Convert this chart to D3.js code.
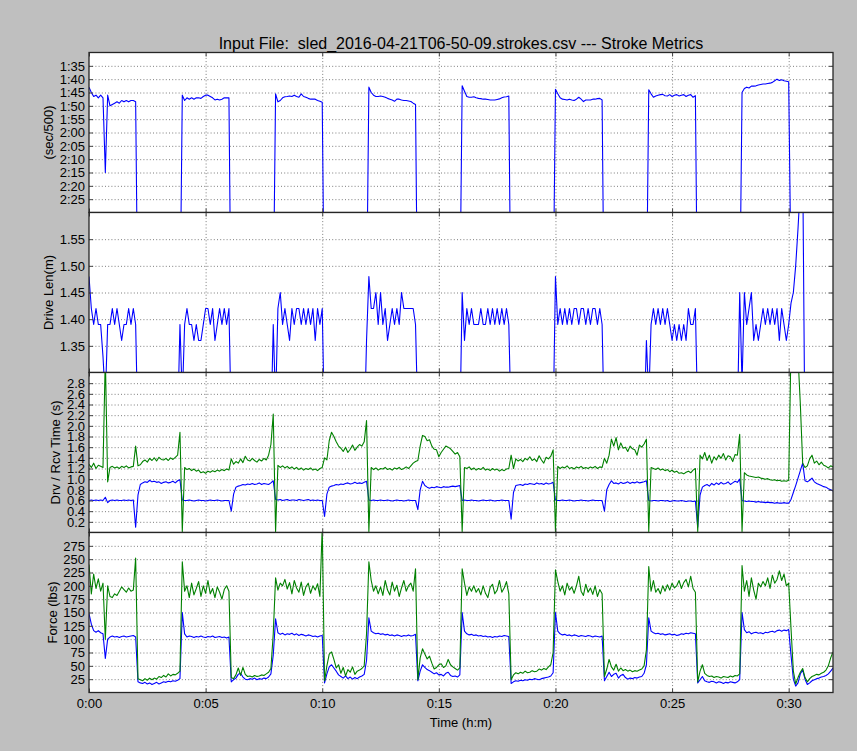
<!DOCTYPE html>
<html>
<head>
<meta charset="utf-8">
<script src="https://cdn.jsdelivr.net/npm/d3@7"></script>
<style>
  html, body { margin: 0; padding: 0; background: #bfbfbf; }
  svg { display: block; }
  text { font-family: "Liberation Sans", Arial, Helvetica, sans-serif; fill: #000; }
  .keep-space { white-space: pre; }
</style>
</head>
<body>
<svg id="chart" width="857" height="751"></svg>
<script>
// ---------------- DATA (one sample every 0.1 minute, 0.0 .. 31.9 min) ----------------
const SAMPLE_STEP_MIN = 0.1;

// Pace, seconds per 500 m
const pace = [
  103,105,106.5,106,107,106,107,135,106,110,109.5,109,108.5,109,108,108.5,108,108.5,108,108,108.5,
  195,205,210,200,198,205,212,208,200,196,203,207,201,199,204,200,197,195,190,
  106,108,107,107.5,107,107.5,107,107,107.2,106.5,106,106,106.5,107,107.8,107.5,107.8,107.5,107,107,107,
  200,210,205,198,215,207,203,199,211,206,202,208,200,195,204,199,193,190,185,
  105.5,108.5,108,107,106.6,106.5,106.3,106.5,106,106.5,106.8,105.5,106.5,106.8,107.2,107.5,107.5,107.5,108,108.3,108.7,
  198,212,206,201,209,214,203,197,205,210,202,199,207,203,196,200,194,190,186,
  103,105,106,106.5,106.5,106.3,106.5,106.8,107.2,107.5,107.8,108.3,107.5,107.5,107.8,108,108,108.2,108.4,109,109.5,
  201,207,213,204,198,209,205,211,200,196,204,208,199,203,197,201,195,191,187,
  102.5,104.5,106.5,106.8,106.8,106.6,107,107.2,107.3,107.5,107.5,107.6,107.8,107.8,107.8,107.6,107.4,107,106.7,106.6,106.3,
  199,206,211,203,208,214,202,198,207,210,201,205,209,200,197,203,195,190,186,
  103.8,105.5,107,107.5,107.6,107.8,107.5,107.8,108,107.5,106.8,107.5,108.4,107.8,107.8,107.8,107.5,107.5,107.3,107.2,107.8,
  202,208,212,205,199,210,206,213,201,197,205,209,200,204,198,202,196,191,187,
  104,105.5,106.8,106.3,106,105.8,105.7,106.2,106.3,105.8,106.5,106,105.8,106.3,106,105.8,106.5,106,105.8,106.8,106.2,
  200,207,213,204,210,215,206,199,208,211,203,206,210,201,198,204,196,192,188,
  105,103.5,103,103.3,102.6,102.6,102.5,102.2,102,101.8,101.8,101.6,101.5,101.2,100.6,100,100.5,100.2,100.6,100.8,101,
  175,190,198,205,210,208,212,215,210,213,218,214,216,220,217,219,222,218,220
];

// Drive length, metres
const driveLen = [
  1.48,1.42,1.39,1.42,1.39,1.39,1.33,1.25,1.39,1.39,1.42,1.39,1.42,1.39,1.36,1.39,1.39,1.42,1.39,1.42,1.39,
  1.18,1.15,1.20,1.17,1.22,1.19,1.16,1.21,1.18,1.23,1.20,1.17,1.19,1.22,1.18,1.21,1.24,1.20,1.39,
  1.25,1.39,1.42,1.39,1.39,1.36,1.39,1.36,1.36,1.39,1.42,1.42,1.39,1.42,1.36,1.39,1.42,1.39,1.42,1.39,1.42,
  1.20,1.17,1.22,1.19,1.16,1.21,1.18,1.23,1.20,1.17,1.19,1.22,1.18,1.21,1.16,1.20,1.23,1.19,1.39,
  1.24,1.42,1.45,1.39,1.42,1.39,1.36,1.42,1.39,1.42,1.42,1.39,1.42,1.39,1.42,1.39,1.42,1.36,1.42,1.39,1.42,
  1.19,1.22,1.17,1.20,1.23,1.18,1.21,1.16,1.19,1.22,1.18,1.20,1.23,1.17,1.21,1.19,1.22,1.18,1.36,
  1.48,1.42,1.42,1.45,1.39,1.45,1.39,1.42,1.36,1.39,1.42,1.39,1.42,1.39,1.45,1.42,1.42,1.42,1.42,1.42,1.39,
  1.21,1.18,1.22,1.19,1.16,1.20,1.23,1.18,1.21,1.17,1.20,1.22,1.19,1.16,1.21,1.18,1.22,1.20,1.19,
  1.45,1.36,1.42,1.39,1.42,1.39,1.39,1.39,1.42,1.39,1.39,1.42,1.39,1.42,1.39,1.42,1.39,1.42,1.39,1.42,1.39,
  1.20,1.23,1.18,1.21,1.17,1.19,1.22,1.20,1.16,1.21,1.18,1.23,1.19,1.20,1.17,1.22,1.18,1.21,1.20,
  1.48,1.39,1.42,1.39,1.42,1.39,1.42,1.39,1.42,1.42,1.39,1.42,1.42,1.39,1.42,1.39,1.42,1.42,1.39,1.42,1.39,
  1.18,1.21,1.19,1.23,1.17,1.20,1.22,1.18,1.21,1.19,1.16,1.22,1.20,1.18,1.21,1.19,1.23,1.20,1.36,
  1.25,1.39,1.42,1.39,1.42,1.39,1.42,1.39,1.42,1.39,1.36,1.39,1.36,1.39,1.36,1.39,1.36,1.42,1.39,1.39,1.42,
  1.21,1.18,1.20,1.23,1.17,1.19,1.22,1.20,1.18,1.21,1.16,1.19,1.23,1.20,1.18,1.22,1.19,1.21,1.45,
  1.28,1.45,1.39,1.42,1.45,1.36,1.39,1.36,1.39,1.42,1.39,1.42,1.39,1.42,1.39,1.42,1.36,1.42,1.39,1.36,1.39,
  1.43,1.45,1.50,1.57,1.65,1.70,1.15,1.18,1.12,1.16,1.14,1.19,1.17,1.13,1.18,1.15,1.20,1.16,1.18
];

// Drive time, seconds
const driveTime = [
  0.6,0.61,0.6,0.61,0.6,0.61,0.6,0.66,0.56,0.6,0.61,0.6,0.61,0.6,0.6,0.61,0.6,0.61,0.6,0.61,0.1,
  0.7,0.9,0.93,0.95,0.94,0.98,0.95,0.96,0.94,0.95,0.92,0.94,0.95,0.93,0.94,0.96,0.93,0.97,0.99,
  0.61,0.6,0.6,0.61,0.6,0.59,0.6,0.61,0.6,0.6,0.59,0.6,0.61,0.6,0.6,0.61,0.6,0.59,0.6,0.6,0.6,
  0.4,0.72,0.85,0.87,0.88,0.9,0.89,0.91,0.9,0.92,0.9,0.91,0.93,0.9,0.92,0.91,0.9,0.93,0.97,
  0.62,0.61,0.62,0.6,0.61,0.62,0.6,0.61,0.61,0.6,0.62,0.61,0.6,0.61,0.62,0.6,0.61,0.6,0.61,0.6,0.6,
  0.3,0.72,0.85,0.87,0.88,0.9,0.89,0.91,0.9,0.92,0.93,0.91,0.92,0.94,0.92,0.93,0.92,0.94,0.96,
  0.61,0.6,0.61,0.6,0.6,0.61,0.6,0.6,0.61,0.6,0.59,0.6,0.61,0.6,0.6,0.59,0.6,0.61,0.6,0.6,0.6,
  0.43,0.8,0.96,0.88,0.85,0.83,0.85,0.84,0.86,0.85,0.84,0.86,0.85,0.85,0.86,0.87,0.86,0.87,0.88,
  0.6,0.61,0.6,0.6,0.61,0.6,0.6,0.59,0.6,0.61,0.6,0.6,0.61,0.6,0.59,0.6,0.6,0.61,0.6,0.6,0.6,
  0.25,0.75,0.88,0.89,0.9,0.88,0.91,0.9,0.92,0.91,0.9,0.93,0.91,0.92,0.9,0.93,0.91,0.92,0.94,
  0.61,0.6,0.6,0.61,0.6,0.6,0.61,0.6,0.59,0.6,0.6,0.61,0.6,0.6,0.59,0.6,0.61,0.6,0.6,0.6,0.6,
  0.4,0.8,0.9,0.97,0.92,0.93,0.91,0.94,0.92,0.93,0.95,0.92,0.94,0.93,0.95,0.93,0.94,0.95,0.97,
  0.6,0.59,0.6,0.6,0.59,0.6,0.6,0.59,0.6,0.58,0.59,0.6,0.59,0.59,0.6,0.59,0.58,0.59,0.59,0.58,0.59,
  0.1,0.7,0.85,0.88,0.9,0.87,0.92,0.89,0.93,0.9,0.94,0.91,0.92,0.95,0.9,0.93,0.96,0.94,1.0,
  0.6,0.59,0.58,0.59,0.58,0.58,0.57,0.58,0.57,0.57,0.56,0.57,0.56,0.56,0.55,0.56,0.55,0.55,0.56,0.55,0.55,
  0.62,0.75,0.88,1.02,1.16,1.3,0.97,0.95,0.98,1.02,0.95,0.92,0.9,0.88,0.86,0.85,0.82,0.8,0.78
];

// Recovery time, seconds
const recoveryTime = [
  1.28,1.22,1.3,1.2,1.26,1.24,1.22,3.3,0.95,1.22,1.24,1.21,1.23,1.2,1.24,1.22,1.25,1.21,1.23,1.24,1.62,
  1.25,1.27,1.33,1.36,1.32,1.39,1.35,1.4,1.34,1.41,1.37,1.36,1.39,1.35,1.4,1.37,1.41,1.45,1.88,
  0.02,1.22,1.18,1.2,1.16,1.19,1.15,1.17,1.12,1.14,1.11,1.15,1.13,1.16,1.14,1.17,1.15,1.18,1.16,1.19,1.17,
  1.38,1.28,1.33,1.3,1.38,1.31,1.43,1.36,1.34,1.39,1.35,1.32,1.37,1.34,1.39,1.36,1.45,1.65,2.22,
  0.02,1.26,1.22,1.25,1.21,1.24,1.2,1.23,1.19,1.22,1.18,1.21,1.17,1.2,1.18,1.21,1.17,1.19,1.16,1.2,1.22,
  1.4,1.36,1.72,1.88,1.8,1.7,1.62,1.58,1.52,1.6,1.5,1.56,1.64,1.54,1.6,1.65,1.62,1.7,2.1,
  0.02,1.22,1.18,1.21,1.17,1.2,1.19,1.22,1.18,1.2,1.17,1.21,1.19,1.22,1.18,1.2,1.23,1.2,1.25,1.3,1.33,
  1.35,1.62,1.82,1.8,1.72,1.74,1.62,1.56,1.55,1.42,1.5,1.56,1.62,1.6,1.57,1.52,1.47,1.5,1.42,
  0.02,1.22,1.2,1.23,1.18,1.21,1.17,1.2,1.18,1.22,1.17,1.19,1.16,1.2,1.17,1.19,1.15,1.18,1.16,1.19,1.2,
  1.45,1.2,1.38,1.34,1.37,1.33,1.39,1.36,1.42,1.35,1.38,1.33,1.44,1.36,1.3,1.41,1.38,1.43,1.55,
  0.02,1.24,1.2,1.23,1.21,1.25,1.2,1.22,1.19,1.23,1.21,1.24,1.2,1.22,1.2,1.23,1.21,1.24,1.2,1.23,1.22,
  1.39,1.3,1.45,1.75,1.62,1.78,1.55,1.68,1.58,1.6,1.52,1.62,1.57,1.55,1.45,1.64,1.6,1.66,1.75,
  0.02,1.22,1.2,1.18,1.21,1.17,1.19,1.16,1.18,1.14,1.17,1.13,1.15,1.11,1.12,1.1,1.13,1.15,1.12,1.17,1.2,
  0.02,1.45,1.38,1.5,1.35,1.45,1.3,1.42,1.36,1.45,1.39,1.48,1.36,1.44,1.42,1.33,1.46,1.45,1.84,
  0.02,1.12,1.08,1.06,1.05,1.04,1.03,1.04,1.02,1.01,1.0,1.01,0.99,0.98,0.99,0.97,0.98,0.96,0.97,0.96,0.98,
  3.5,3.6,3.4,3.3,2.4,1.3,1.22,1.25,1.38,1.45,1.3,1.34,1.27,1.32,1.26,1.24,1.21,1.25,1.23
];

// Average force, lbs
const avgForce = [
  148,128,116,113,116,112,110,64,100,104,106,104,105,103,105,106,104,105,106,107,104,
  20,18,17,19,16,18,15,17,19,16,18,20,19,21,20,22,21,23,26,
  150,110,104,106,105,103,105,104,106,104,103,105,104,106,103,104,105,103,104,102,104,
  20,24,27,34,36,29,25,24,26,25,27,24,26,25,27,26,29,35,70,
  138,112,109,111,108,110,109,111,108,110,107,109,108,106,108,107,105,106,104,106,107,
  18,35,48,52,46,40,33,30,27,31,26,29,25,28,26,29,31,34,60,
  140,115,112,110,111,109,110,108,109,107,108,106,108,107,105,107,106,108,106,107,109,
  22,40,52,47,43,41,38,35,37,33,34,31,36,38,32,30,31,29,33,
  150,115,110,108,109,107,108,106,107,105,106,104,105,103,105,104,106,105,107,106,105,
  17,20,22,21,23,22,24,23,25,24,26,25,24,26,27,28,29,31,37,
  150,115,110,108,109,107,108,106,108,107,105,107,106,105,107,106,104,106,105,104,106,
  22,30,38,30,34,36,27,32,34,28,25,27,26,28,27,29,30,36,52,
  140,115,112,110,111,109,110,108,109,110,108,109,107,108,110,109,111,110,112,111,110,
  18,24,30,22,20,19,21,20,18,20,19,17,19,18,20,19,18,20,24,
  150,118,112,114,110,112,113,111,112,110,113,112,114,115,113,116,117,115,117,116,118,
  70,25,12,18,35,42,25,15,18,22,24,26,27,29,30,32,35,40,46
];

// Peak force, lbs
const peakForce = [
  240,185,222,195,213,190,205,100,200,180,178,185,182,190,198,193,188,196,190,192,252,
  26,24,22,26,23,27,24,27,25,30,28,32,29,35,31,34,33,36,40,
  245,190,200,178,205,183,195,208,180,200,186,210,185,195,178,198,188,175,193,200,190,
  28,26,33,46,32,47,34,30,31,29,32,30,31,33,32,35,38,45,110,
  215,192,205,200,212,194,206,185,210,196,188,207,182,198,205,186,200,192,204,180,310,
  22,50,72,76,62,46,52,36,47,31,43,38,48,34,40,42,45,50,110,
  245,210,190,200,185,198,182,210,192,183,207,190,201,180,196,210,190,200,205,190,232,
  24,65,82,72,63,68,55,44,47,52,54,47,50,62,52,48,45,42,46,
  232,205,182,198,190,200,188,195,183,200,186,178,197,203,185,192,210,188,196,208,185,
  24,33,37,35,38,36,40,37,38,41,39,40,44,42,45,43,48,52,75,
  230,208,190,200,183,205,192,198,186,200,218,190,182,203,188,196,184,200,180,193,185,
  30,44,62,48,42,53,40,46,41,43,40,42,39,41,40,42,44,50,80,
  236,190,210,188,195,185,200,190,202,192,205,196,200,210,195,206,212,198,218,195,188,
  20,40,52,36,32,30,31,28,30,29,27,30,29,28,31,29,32,31,35,
  238,190,210,180,215,192,175,205,198,208,200,215,195,220,205,212,228,210,222,200,205,
  120,40,16,28,38,45,28,20,26,30,32,34,33,36,38,42,50,65,76
];

// Tick values and labels
const xTickValues = [0, 5, 10, 15, 20, 25, 30];
const xTickLabels = ["0:00", "0:05", "0:10", "0:15", "0:20", "0:25", "0:30"];
const paceTickValues = [95, 100, 105, 110, 115, 120, 125, 130, 135, 140, 145];
const paceTickLabels = ["1:35", "1:40", "1:45", "1:50", "1:55", "2:00", "2:05", "2:10", "2:15", "2:20", "2:25"];
const lenTickValues = [1.35, 1.40, 1.45, 1.50, 1.55];
const lenTickLabels = ["1.35", "1.40", "1.45", "1.50", "1.55"];
const timeTickValues = [0.2, 0.4, 0.6, 0.8, 1.0, 1.2, 1.4, 1.6, 1.8, 2.0, 2.2, 2.4, 2.6, 2.8];
const timeTickLabels = ["0.2", "0.4", "0.6", "0.8", "1.0", "1.2", "1.4", "1.6", "1.8", "2.0", "2.2", "2.4", "2.6", "2.8"];
const forceTickValues = [25, 50, 75, 100, 125, 150, 175, 200, 225, 250, 275];
const forceTickLabels = ["25", "50", "75", "100", "125", "150", "175", "200", "225", "250", "275"];

const titleText = "Input File:  sled_2016-04-21T06-50-09.strokes.csv --- Stroke Metrics";
const xLabelText = "Time (h:m)";

// ---------------- DRAWING ----------------
const svg = d3.select("#chart");
const W = 857, H = 751;
const plotLeft = 89, plotRight = 833;
const panelH = 160;
const panelTops = [52.5, 212.5, 372.5, 532.5];
const BLUE = "#0000ff", GREEN = "#008000";

svg.append("rect").attr("width", W).attr("height", H).attr("fill", "#bfbfbf");

const x = d3.scaleLinear()
  .domain([0, (pace.length - 1) * SAMPLE_STEP_MIN])
  .range([plotLeft, plotRight]);

const panels = [
  { label: "(sec/500)", domain: [90, 150], inverted: true, ticks: paceTickValues, labels: paceTickLabels,
    series: [{ values: pace, color: BLUE }] },
  { label: "Drive Len(m)", domain: [1.30, 1.60], ticks: lenTickValues, labels: lenTickLabels,
    series: [{ values: driveLen, color: BLUE }] },
  { label: "Drv / Rcv Time (s)", domain: [0, 3.0], ticks: timeTickValues, labels: timeTickLabels,
    series: [{ values: driveTime, color: BLUE }, { values: recoveryTime, color: GREEN }] },
  { label: "Force (lbs)", domain: [0, 300], ticks: forceTickValues, labels: forceTickLabels,
    series: [{ values: avgForce, color: BLUE }, { values: peakForce, color: GREEN }] }
];

const defs = svg.append("defs");

panels.forEach((p, pi) => {
  const top = panelTops[pi], bottom = top + panelH;
  const y = d3.scaleLinear().domain(p.domain).range(p.inverted ? [top, bottom] : [bottom, top]);
  const g = svg.append("g");

  g.append("rect").attr("x", plotLeft).attr("y", top)
    .attr("width", plotRight - plotLeft).attr("height", panelH).attr("fill", "#ffffff");

  // grid (horizontal)
  const gridY = g.append("g").attr("transform", `translate(${plotLeft},0)`)
    .call(d3.axisLeft(y).tickValues(p.ticks).tickSize(-(plotRight - plotLeft)).tickFormat(""));
  // grid (vertical)
  const gridX = g.append("g").attr("transform", `translate(0,${bottom})`)
    .call(d3.axisBottom(x).tickValues(xTickValues.filter(v => v > 0)).tickSize(-panelH).tickFormat(""));
  [gridY, gridX].forEach(gg => {
    gg.select(".domain").remove();
    gg.selectAll(".tick line").attr("stroke", "#6e6e6e").attr("stroke-width", 0.9)
      .attr("stroke-dasharray", "1,2.2");
  });

  // clip
  const clipId = "clip" + pi;
  defs.append("clipPath").attr("id", clipId).append("rect")
    .attr("x", plotLeft).attr("y", top).attr("width", plotRight - plotLeft).attr("height", panelH);

  const line = d3.line()
    .x((d, i) => x(i * SAMPLE_STEP_MIN))
    .y(d => y(d));

  const lines = g.append("g").attr("clip-path", `url(#${clipId})`);
  p.series.forEach(s => {
    lines.append("path").datum(s.values)
      .attr("d", line).attr("fill", "none")
      .attr("stroke", s.color).attr("stroke-width", 1.1)
      .attr("stroke-linejoin", "round");
  });

  // ticks (inward) on all sides
  const yLeft = g.append("g").attr("transform", `translate(${plotLeft},0)`)
    .call(d3.axisLeft(y).tickValues(p.ticks).tickFormat((d, i) => p.labels[i])
      .tickSizeInner(-4).tickSizeOuter(0).tickPadding(4));
  const yRight = g.append("g").attr("transform", `translate(${plotRight},0)`)
    .call(d3.axisRight(y).tickValues(p.ticks).tickFormat("").tickSizeInner(-4).tickSizeOuter(0));
  const xTop = g.append("g").attr("transform", `translate(0,${top})`)
    .call(d3.axisTop(x).tickValues(xTickValues).tickFormat("").tickSizeInner(-4).tickSizeOuter(0));
  const isLast = pi === panels.length - 1;
  const xBottom = g.append("g").attr("transform", `translate(0,${bottom})`)
    .call(d3.axisBottom(x).tickValues(xTickValues)
      .tickFormat(isLast ? ((d, i) => xTickLabels[i]) : "")
      .tickSizeInner(-4).tickSizeOuter(0).tickPadding(6));

  [yLeft, yRight, xTop, xBottom].forEach(a => {
    a.select(".domain").remove();
    a.selectAll(".tick line").attr("stroke", "#444").attr("stroke-width", 1);
    a.selectAll("text").attr("font-size", "13px").attr("fill", "#000")
      .attr("font-family", '"Liberation Sans", Arial, Helvetica, sans-serif');
  });

  // frame
  g.append("rect").attr("x", plotLeft).attr("y", top)
    .attr("width", plotRight - plotLeft).attr("height", panelH)
    .attr("fill", "none").attr("stroke", "#262626").attr("stroke-width", 1.3);

  // y label placed left of tick labels
  let minX = plotLeft;
  yLeft.selectAll("text").each(function () {
    const b = this.getBBox();
    minX = Math.min(minX, plotLeft + b.x);
  });
  svg.append("text")
    .attr("transform", `translate(${minX - 6.5},${top + panelH / 2}) rotate(-90)`)
    .attr("text-anchor", "middle").attr("font-size", "13px")
    .text(p.label);
});

// title and x label
svg.append("text").attr("class", "keep-space")
  .attr("xml:space", "preserve")
  .attr("x", (plotLeft + plotRight) / 2).attr("y", 48.5)
  .attr("text-anchor", "middle").attr("font-size", "16px").text(titleText);
svg.append("text").attr("x", (plotLeft + plotRight) / 2).attr("y", 726.5)
  .attr("text-anchor", "middle").attr("font-size", "13px").text(xLabelText);
</script>
</body>
</html>
